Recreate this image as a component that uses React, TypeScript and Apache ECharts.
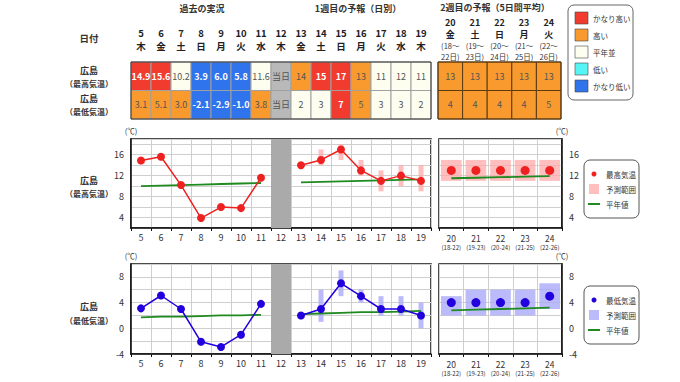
import React, { useEffect, useRef } from "react";
import * as echarts from "echarts";

// ---------- data ----------
const days = ["5", "6", "7", "8", "9", "10", "11", "12", "13", "14", "15", "16", "17", "18", "19"];
const weekdays = ["木", "金", "土", "日", "月", "火", "水", "木", "金", "土", "日", "月", "火", "水", "木"];
const week2Days = ["20", "21", "22", "23", "24"];
const week2Weekdays = ["金", "土", "日", "月", "火"];
const week2From = ["18", "19", "20", "21", "22"];
const week2To = ["22", "23", "24", "25", "26"];

const pastMax = [14.9, 15.6, 10.2, 3.9, 6.0, 5.8, 11.6];
const pastMin = [3.1, 5.1, 3.0, -2.1, -2.9, -1.0, 3.8];
const w1Max = [14, 15, 17, 13, 11, 12, 11];
const w1Min = [2, 3, 7, 5, 3, 3, 2];
const w1MaxLow = [null, 14, 15, 12, 9, 10, 9];
const w1MaxHigh = [null, 17, 18, 15, 13, 14, 14];
const w1MinLow = [null, 1, 5, 4, 2, 2, 0];
const w1MinHigh = [null, 6, 9, 6, 5, 5, 4];
const w2Max = [13, 13, 13, 13, 13];
const w2Min = [4, 4, 4, 4, 5];
const w2MaxLow = [11, 11, 11, 11, 11];
const w2MaxHigh = [15, 15, 15, 15, 15];
const w2MinLow = [2, 2, 2, 2, 3];
const w2MinHigh = [5, 6, 6, 6, 7];

const normMaxPast = [10.0, 10.1, 10.2, 10.3, 10.4, 10.5, 10.6];
const normMaxW1 = [10.7, 10.8, 10.9, 11.0, 11.1, 11.2, 11.3];
const normMaxW2 = [11.5, 11.6, 11.7, 11.8, 11.9];
const normMinPast = [1.7, 1.8, 1.8, 1.9, 2.0, 2.0, 2.1];
const normMinW1 = [2.2, 2.3, 2.4, 2.5, 2.5, 2.6, 2.7];
const normMinW2 = [2.8, 2.9, 3.0, 3.1, 3.2];

const pastMaxClass = ["vh", "vh", "n", "vl", "vl", "vl", "n"];
const pastMinClass = ["h", "h", "h", "vl", "vl", "vl", "h"];
const w1MaxClass = ["h", "vh", "vh", "h", "n", "n", "n"];
const w1MinClass = ["n", "n", "vh", "h", "n", "n", "n"];
const w2MaxClass = ["h", "h", "h", "h", "h"];
const w2MinClass = ["h", "h", "h", "h", "h"];

const todayLabel = "当日";
const legendClasses = ["vh", "h", "n", "l", "vl"];
const legendLabels = ["かなり高い", "高い", "平年並", "低い", "かなり低い"];

// ---------- styles ----------
const FONT = "'Noto Sans CJK JP', 'Noto Sans', sans-serif";
const CLASS_COLOR: Record<string, string> = {
  vh: "#f23b2f",
  h: "#f89a2e",
  n: "#fdfdf0",
  l: "#55f5f5",
  vl: "#2f74ec",
  today: "#b9b9b9",
};
const RED = "#ee2020";
const BLUE = "#2200dd";
const GREEN = "#1f8a1f";
const PINK = "rgba(255,170,170,0.75)";
const LAV = "rgba(170,170,250,0.8)";

const nulls = (n: number) => Array.from({ length: n }, () => null);

type Cell = { x: number; y: number; text: string; cls: string };

const cellRender = (cells: Cell[], border: string) => (params: any, api: any) => {
  const c = cells[params.dataIndex];
  const p = api.coord([api.value(0), api.value(1)]);
  const s = api.size([1, 1]);
  const strong = c.cls === "vh" || c.cls === "vl";
  return {
    type: "rect",
    shape: { x: p[0] - s[0] / 2, y: p[1] - s[1] / 2, width: s[0], height: s[1] },
    style: { fill: CLASS_COLOR[c.cls], stroke: border, lineWidth: 1 },
    textContent: {
      style: {
        text: c.text,
        fill: strong ? "#ffffff" : "#555555",
        fontWeight: strong ? "bold" : "normal",
        fontSize: 9,
        fontFamily: FONT,
      },
    },
    textConfig: { position: "inside" },
  };
};

const rangeRender = (color: string, narrow: boolean) => (params: any, api: any) => {
  const x = api.value(0);
  const lo = api.value(1);
  const hi = api.value(2);
  const p1 = api.coord([x, hi]);
  const p2 = api.coord([x, lo]);
  const band = api.size([1, 0])[0];
  const w = narrow ? 5 : band * 0.84;
  return {
    type: "rect",
    shape: { x: p1[0] - w / 2, y: p1[1], width: w, height: p2[1] - p1[1] },
    style: { fill: color },
  };
};

const bandRender = (params: any, api: any) => {
  const x = api.value(0);
  const c = api.coord([x, 0]);
  const band = api.size([1, 0])[0];
  const cs = params.coordSys;
  return {
    type: "rect",
    shape: { x: c[0] - band / 2, y: cs.y, width: band, height: cs.height },
    style: { fill: "#aaaaaa" },
  };
};

export default function App() {
  const ref = useRef<HTMLDivElement>(null);

  useEffect(() => {
    if (!ref.current) return;
    const chart = echarts.init(ref.current, null, { renderer: "svg" });

    // table cells
    const tableMaxText = [...pastMax.map((v) => v.toFixed(1)), todayLabel, ...w1Max.map(String)];
    const tableMinText = [...pastMin.map((v) => v.toFixed(1)), todayLabel, ...w1Min.map(String)];
    const tableMaxCls = [...pastMaxClass, "today", ...w1MaxClass];
    const tableMinCls = [...pastMinClass, "today", ...w1MinClass];
    const cellsA: Cell[] = [];
    days.forEach((_, i) => {
      cellsA.push({ x: i, y: 0, text: tableMaxText[i], cls: tableMaxCls[i] });
      cellsA.push({ x: i, y: 1, text: tableMinText[i], cls: tableMinCls[i] });
    });
    const cellsB: Cell[] = [];
    week2Days.forEach((_, i) => {
      cellsB.push({ x: i, y: 0, text: String(w2Max[i]), cls: w2MaxClass[i] });
      cellsB.push({ x: i, y: 1, text: String(w2Min[i]), cls: w2MinClass[i] });
    });

    const axisText = { fontSize: 9, color: "#333", fontFamily: FONT };

    const mainX = (gridIndex: number) => ({
      type: "category",
      gridIndex,
      data: days,
      boundaryGap: true,
      axisLine: { onZero: false, lineStyle: { color: "#111", width: 1.5 } },
      axisTick: { show: true, length: 3, lineStyle: { color: "#111" } },
      axisLabel: { ...axisText, interval: 0, margin: 5 },
      splitLine: { show: true, lineStyle: { color: "#cfcfcf", width: 1 } },
    });
    const w2X = (gridIndex: number) => ({
      type: "category",
      gridIndex,
      data: week2Days,
      boundaryGap: true,
      axisLine: { onZero: false, lineStyle: { color: "#111", width: 1.5 } },
      axisTick: { show: true, length: 3, lineStyle: { color: "#111" } },
      axisLabel: {
        interval: 0,
        margin: 4,
        formatter: (v: string, i: number) => `{a|${v}}\n{b|(${week2From[i]}-${week2To[i]})}`,
        rich: {
          a: { fontSize: 8.5, color: "#333", lineHeight: 11, fontFamily: FONT },
          b: { fontSize: 6, color: "#333", lineHeight: 9, fontFamily: FONT },
        },
      },
      splitLine: { show: true, lineStyle: { color: "#cfcfcf", width: 1 } },
    });
    const valY = (gridIndex: number, min: number, max: number, right: boolean) => ({
      type: "value",
      gridIndex,
      min,
      max,
      interval: 2,
      position: right ? "right" : "left",
      name: "(℃)",
      nameLocation: "end",
      nameGap: 5,
      nameTextStyle: { fontSize: 7.5, color: "#333", fontFamily: FONT },
      axisLine: { show: true, onZero: false, lineStyle: { color: "#111", width: 1.5 } },
      axisTick: { show: false },
      axisLabel: {
        ...axisText,
        margin: 7,
        formatter: (v: number) => (v % 4 === 0 ? String(v) : ""),
      },
      splitLine: { show: true, lineStyle: { color: "#cfcfcf", width: 1 } },
    });

    const lineSeries = (xi: number, data: any[], color: string) => ({
      type: "line",
      xAxisIndex: xi,
      yAxisIndex: xi,
      data,
      symbol: "circle",
      symbolSize: 8,
      itemStyle: { color },
      lineStyle: { color, width: 1.5 },
      z: 4,
    });
    const normSeries = (xi: number, data: any[]) => ({
      type: "line",
      xAxisIndex: xi,
      yAxisIndex: xi,
      data,
      symbol: "none",
      lineStyle: { color: GREEN, width: 1.8 },
      z: 3,
    });
    const rangeSeries = (xi: number, lo: any[], hi: any[], offset: number, color: string, narrow: boolean) => ({
      type: "custom",
      xAxisIndex: xi,
      yAxisIndex: xi,
      renderItem: rangeRender(color, narrow),
      data: lo
        .map((l, i) => (l === null ? null : [i + offset, l, hi[i]]))
        .filter((d) => d !== null),
      encode: { x: 0, y: [1, 2] },
      z: 2,
    });

    const t = (x: number, y: number, text: string, size: number, bold = false, align = "center") => ({
      type: "text",
      x,
      y,
      style: {
        text,
        fontSize: size,
        fontWeight: bold ? "bold" : "normal",
        fill: "#333",
        fontFamily: FONT,
        align,
        verticalAlign: "middle",
      },
    });

    const graphic: any[] = [
      t(202, 8, "過去の実況", 9, true),
      t(358, 8, "1週目の予報（日別）", 9, true),
      t(495, 7, "2週目の予報（5日間平均）", 9, true),
      t(89, 38, "日付", 9.5, true),
      t(89, 70, "広島", 9, true),
      t(89, 83, "（最高気温）", 8, true),
      t(89, 98, "広島", 9, true),
      t(89, 111, "（最低気温）", 8, true),
      t(89, 180, "広島", 9, true),
      t(89, 193, "（最高気温）", 8, true),
      t(89, 306, "広島", 9, true),
      t(89, 320, "（最低気温）", 8, true),
      // class legend
      {
        type: "rect",
        shape: { x: 568, y: 5, width: 65, height: 95, r: 6 },
        style: { fill: "#fff", stroke: "#666", lineWidth: 1 },
      },
      ...legendClasses.flatMap((c, i) => [
        {
          type: "rect",
          shape: { x: 575, y: 12 + i * 17, width: 13, height: 12 },
          style: { fill: CLASS_COLOR[c], stroke: "#444", lineWidth: 0.6 },
        },
        t(593, 18 + i * 17, legendLabels[i], 7.5, false, "left"),
      ]),
    ];
    const chartLegend = (top: number, label: string, dot: string, fill: string) => [
      {
        type: "rect",
        shape: { x: 584, y: top, width: 55, height: 58, r: 6 },
        style: { fill: "#fff", stroke: "#555", lineWidth: 1 },
      },
      { type: "circle", shape: { cx: 594, cy: top + 14, r: 2.5 }, style: { fill: dot } },
      t(606, top + 14, label, 7.5, false, "left"),
      { type: "rect", shape: { x: 589, y: top + 24, width: 10, height: 10 }, style: { fill } },
      t(606, top + 29, "予測範囲", 7.5, false, "left"),
      {
        type: "line",
        shape: { x1: 588, y1: top + 44, x2: 600, y2: top + 44 },
        style: { stroke: GREEN, lineWidth: 2 },
      },
      t(606, top + 44, "平年値", 7.5, false, "left"),
    ];
    graphic.push(...chartLegend(160, "最高気温", RED, PINK));
    graphic.push(...chartLegend(286, "最低気温", BLUE, LAV));

    const option: any = {
      animation: false,
      textStyle: { fontFamily: FONT },
      grid: [
        { left: 131, top: 62, width: 300, height: 57, show: true, borderColor: "#333", borderWidth: 1, backgroundColor: "transparent", z: 5 },
        { left: 438, top: 62, width: 123, height: 57, show: true, borderColor: "#5a3a12", borderWidth: 1, backgroundColor: "transparent", z: 5 },
        { left: 131, top: 139, width: 300, height: 89, show: true, borderColor: "#111", borderWidth: 1.5, backgroundColor: "#fff" },
        { left: 439, top: 139, width: 123, height: 89, show: true, borderColor: "#111", borderWidth: 1.5, backgroundColor: "#fff" },
        { left: 131, top: 264, width: 300, height: 90, show: true, borderColor: "#111", borderWidth: 1.5, backgroundColor: "#fff" },
        { left: 439, top: 264, width: 123, height: 90, show: true, borderColor: "#111", borderWidth: 1.5, backgroundColor: "#fff" },
      ],
      xAxis: [
        {
          type: "category",
          gridIndex: 0,
          data: days,
          position: "top",
          axisLine: { show: false },
          axisTick: { show: false },
          axisLabel: {
            interval: 0,
            margin: 10,
            formatter: (v: string, i: number) => `{d|${v}}\n{d|${weekdays[i]}}`,
            rich: { d: { fontSize: 9.5, fontWeight: "bold", color: "#222", lineHeight: 13, fontFamily: FONT } },
          },
        },
        {
          type: "category",
          gridIndex: 1,
          data: week2Days,
          position: "top",
          axisLine: { show: false },
          axisTick: { show: false },
          axisLabel: {
            interval: 0,
            margin: 0,
            formatter: (v: string, i: number) =>
              `{d|${v}}\n{d|${week2Weekdays[i]}}\n{r|(${week2From[i]}〜}\n{r|${week2To[i]}日)}`,
            rich: {
              d: { fontSize: 9, fontWeight: "bold", color: "#222", lineHeight: 12, fontFamily: FONT },
              r: { fontSize: 7.5, color: "#333", lineHeight: 11, fontFamily: FONT },
            },
          },
        },
        mainX(2),
        w2X(3),
        mainX(4),
        w2X(5),
      ],
      yAxis: [
        { type: "category", gridIndex: 0, data: ["max", "min"], inverse: true, show: false },
        { type: "category", gridIndex: 1, data: ["max", "min"], inverse: true, show: false },
        valY(2, 2, 19, false),
        valY(3, 2, 19, true),
        valY(4, -4, 10, false),
        valY(5, -4, 10, true),
      ],
      series: [
        {
          type: "custom",
          xAxisIndex: 0,
          yAxisIndex: 0,
          renderItem: cellRender(cellsA, "#a0a0a0"),
          data: cellsA.map((c) => [c.x, c.y]),
          encode: { x: 0, y: 1 },
        },
        {
          type: "custom",
          xAxisIndex: 1,
          yAxisIndex: 1,
          renderItem: cellRender(cellsB, "#5a3a12"),
          data: cellsB.map((c) => [c.x, c.y]),
          encode: { x: 0, y: 1 },
        },
        { type: "custom", xAxisIndex: 2, yAxisIndex: 2, renderItem: bandRender, data: [[7]], z: 5 },
        { type: "custom", xAxisIndex: 4, yAxisIndex: 4, renderItem: bandRender, data: [[7]], z: 5 },
        rangeSeries(2, w1MaxLow, w1MaxHigh, 8, PINK, true),
        normSeries(2, [...normMaxPast, ...nulls(8)]),
        normSeries(2, [...nulls(8), ...normMaxW1]),
        lineSeries(2, [...pastMax, ...nulls(8)], RED),
        lineSeries(2, [...nulls(8), ...w1Max], RED),
        rangeSeries(3, w2MaxLow, w2MaxHigh, 0, PINK, false),
        normSeries(3, normMaxW2),
        { type: "scatter", xAxisIndex: 3, yAxisIndex: 3, data: w2Max, symbolSize: 9, itemStyle: { color: RED, opacity: 1 }, z: 4 },
        rangeSeries(4, w1MinLow, w1MinHigh, 8, LAV, true),
        normSeries(4, [...normMinPast, ...nulls(8)]),
        normSeries(4, [...nulls(8), ...normMinW1]),
        lineSeries(4, [...pastMin, ...nulls(8)], BLUE),
        lineSeries(4, [...nulls(8), ...w1Min], BLUE),
        rangeSeries(5, w2MinLow, w2MinHigh, 0, LAV, false),
        normSeries(5, normMinW2),
        { type: "scatter", xAxisIndex: 5, yAxisIndex: 5, data: w2Min, symbolSize: 9, itemStyle: { color: BLUE, opacity: 1 }, z: 4 },
      ],
      graphic,
    };
    chart.setOption(option);
    return () => chart.dispose();
  }, []);

  return (
    <div
      ref={ref}
      style={{ position: "fixed", left: 0, top: 0, width: 680, height: 382, background: "#fff" }}
    />
  );
}
